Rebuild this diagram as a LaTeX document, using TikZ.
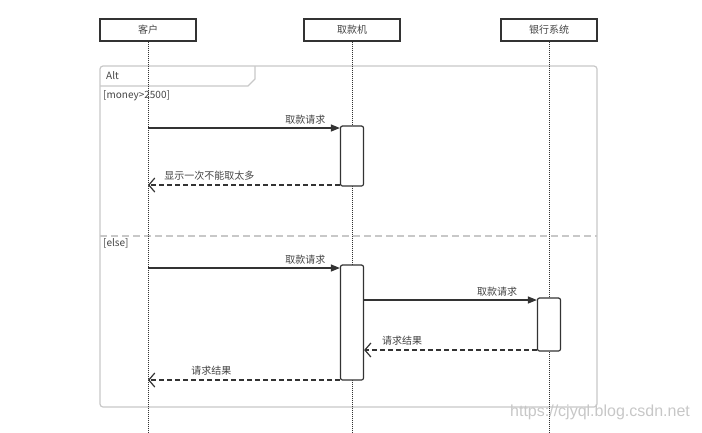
\documentclass[tikz,border=0pt]{standalone}
\usepackage{fontspec}
\setmainfont{Noto Sans CJK SC}
\newfontfamily\wmfont{Liberation Sans}
\usetikzlibrary{arrows.meta,positioning}

\definecolor{inkgray}{HTML}{333333}
\definecolor{txtgray}{HTML}{444444}
\definecolor{framegray}{HTML}{C8C8C8}

\tikzset{
  actor/.style={draw=inkgray, line width=1.4pt, minimum width=96pt, minimum height=22pt,
                inner sep=0pt, text=txtgray, font=\fontsize{10}{12}\selectfont},
  lifeline/.style={inkgray, densely dotted, line width=1pt},
  actbox/.style={draw=inkgray, line width=1.2pt, rounded corners=2pt, fill=white,
                 minimum width=23pt, inner sep=0pt},
  msg/.style={inkgray, line width=1.2pt, -{Triangle[length=9pt,width=7pt]}},
  ret/.style={inkgray, line width=1.2pt, dash pattern=on 5pt off 3pt,
              -{Straight Barb[length=6pt,width=14pt]}},
  lbl/.style={text=txtgray, inner sep=1pt, font=\fontsize{10}{12}\selectfont},
}

\begin{document}
\begin{tikzpicture}[x=1pt,y=-1pt]
    \useasboundingbox (0,0) rectangle (702,432);

    % Cornice Alt
    \draw[framegray, line width=1.2pt, rounded corners=3pt] (100,66) rectangle (597,407);
    \draw[framegray, line width=1.2pt] (100,86) -- (248,86) -- (255,79) -- (255,66);
    \node[lbl, anchor=west] (alt) at (105,76) {Alt};
    \node[lbl, anchor=west] (cond1) at (102,96) {[money>2500]};
    \draw[framegray, line width=1.2pt, dash pattern=on 7pt off 4pt] (100,236) -- (597,236);
    \node[lbl, anchor=west] (cond2) at (102,243) {[else]};

    % Partecipanti
    \node[actor] (kehu) at (148,30) {客户};
    \node[actor] (atm) at (352,30) {取款机};
    \node[actor] (bank) at (549,30) {银行系统};

    % Linee di vita
    \coordinate (kehu end) at (148,432);
    \coordinate (atm end) at (352,432);
    \coordinate (bank end) at (549,432);
    \draw[lifeline] (kehu) -- (kehu end);
    \draw[lifeline] (atm) -- (atm end);
    \draw[lifeline] (bank) -- (bank end);

    % Attivazioni
    \node[actbox, minimum height=60pt] (act1) at (352,156) {};
    \node[actbox, minimum height=115pt] (act2) at (352,322.5) {};
    \node[actbox, minimum height=53pt] (act3) at (549,324.5) {};

    % Primo caso
    \coordinate (m1) at (148,128);
    \draw[msg] (m1) -- (m1 -| act1.west) node[lbl, pos=0.82, above=2pt] {取款请求};
    \coordinate (r1) at (148,185);
    \draw[ret] (r1 -| act1.west) -- (r1) node[lbl, pos=0.68, above=3pt] {显示一次不能取太多};

    % Secondo caso
    \coordinate (m2) at (148,268);
    \draw[msg] (m2) -- (m2 -| act2.west) node[lbl, pos=0.82, above=2pt] {取款请求};
    \coordinate (m3) at (364,300);
    \draw[msg] (m3 -| act2.east) -- (m3 -| act3.west) node[lbl, pos=0.77, above=2pt] {取款请求};
    \coordinate (r2) at (364,350);
    \draw[ret] (r2 -| act3.west) -- (r2 -| act2.east) node[lbl, pos=0.78, above=3pt] {请求结果};
    \coordinate (r3) at (148,380);
    \draw[ret] (r3 -| act2.west) -- (r3) node[lbl, pos=0.67, above=3pt] {请求结果};

    % Filigrana
    \node[text=black!22, font=\wmfont\fontsize{16}{18}\selectfont, anchor=west, inner sep=0pt] (wm) at (510,412) {https://cjyql.blog.csdn.net};
\end{tikzpicture}
\end{document}
